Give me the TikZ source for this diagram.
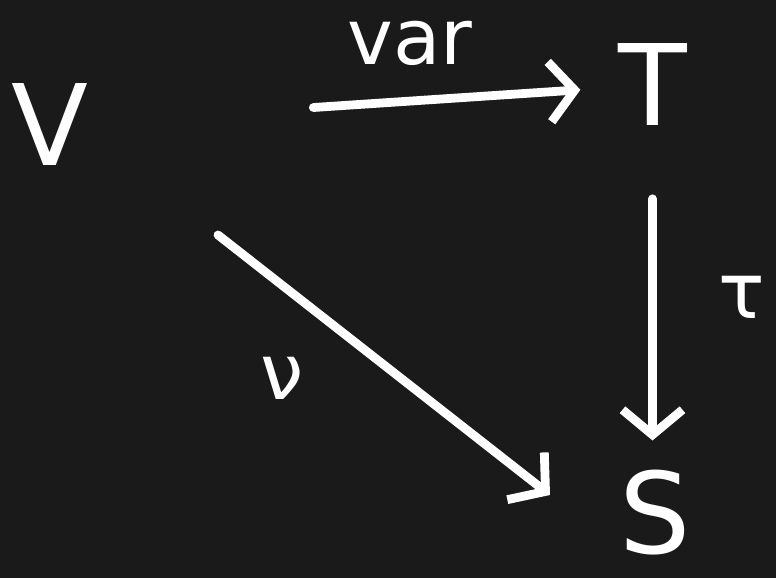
\documentclass[tikz,border=0pt]{standalone}
\usepackage{fontspec}
\setmainfont{DejaVu Sans}
\usetikzlibrary{positioning, arrows.meta}
\definecolor{board}{HTML}{1A1A1A}

\begin{document}
\begin{tikzpicture}[
    obj/.style={text=white, font=\fontsize{64}{64}\selectfont, inner sep=0pt},
    lbl/.style={text=white, font=\fontsize{44}{44}\selectfont, inner sep=0pt},
    map/.style={draw=white, line width=5pt, line cap=round, line join=round,
        -{Straight Barb[length=0.5cm, width=1.2cm, line width=5pt]}}]
    \fill[board] (0,0) rectangle (15.52,11.56);
    \useasboundingbox (0,0) rectangle (15.52,11.56);
    \node[obj] (V) at (1.0,9.06) {V};
    \node[obj] (T) at (13.05,9.86) {T};
    \node[obj] (S) at (13.1,1.3) {S};
    \coordinate (nu-a) at (4.36,6.86);
    \coordinate (nu-b) at (11.0,1.66);
    \draw[map, shorten <=4.5cm, shorten >=0.75cm] (V) -- (T);
    \draw[map, shorten <=1.45cm, shorten >=1.45cm] (T) -- (T |- S);
    \draw[map] (nu-a) -- (nu-b);
    \node[lbl] (var) at (8.2,10.7) {var};
    \node[lbl] (tau) at (14.84,5.62) {τ};
    \node[lbl] (nu) at (5.64,4.0) {ν};
\end{tikzpicture}
\end{document}
